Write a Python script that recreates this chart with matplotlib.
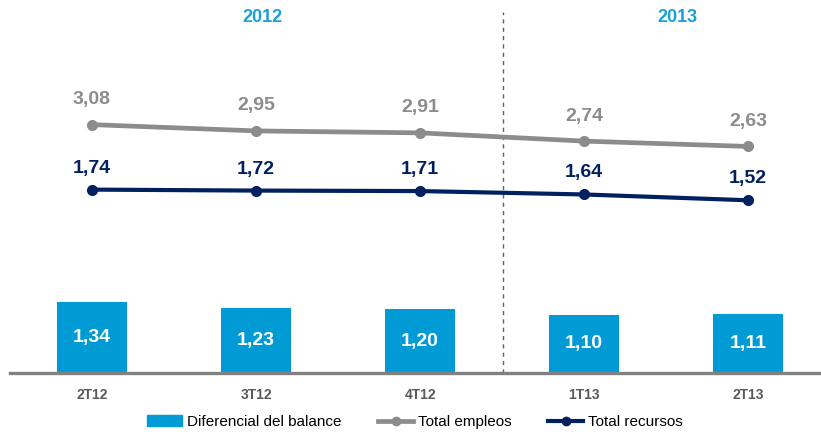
import numpy as np
import matplotlib.pyplot as plt
from matplotlib.patches import Patch
from matplotlib.lines import Line2D

plt.rcParams['font.family'] = ['Liberation Sans', 'DejaVu Sans']

# datos
trimestres = ['2T12', '3T12', '4T12', '1T13', '2T13']
diferencial = [1.34, 1.23, 1.20, 1.10, 1.11]
empleos = [3.08, 2.95, 2.91, 2.74, 2.63]
recursos = [1.74, 1.72, 1.71, 1.64, 1.52]
anios = ['2012', '2013']

c_bar = '#009BD5'
c_gris = '#8C8C8C'
c_azul = '#002060'
c_tick = '#595959'

def fmt(v):
    return f'{v:.2f}'.replace('.', ',')

fig = plt.figure(figsize=(8.21, 4.37), dpi=100)
ax = fig.add_axes([10/821, 64/437, 811/821, 373/437])
x = np.arange(len(trimestres))

ax.bar(x, diferencial, width=0.43, color=c_bar, zorder=2)
for xi, v in zip(x, diferencial):
    ax.text(xi, v/2, fmt(v), ha='center', va='center', color='white',
            fontsize=14, fontweight='bold', zorder=3)

ax.set_xlim(-0.5, 4.445)
ax.set_ylim(0, 373/53)
for s in ['top', 'right', 'left']:
    ax.spines[s].set_visible(False)
ax.spines['bottom'].set_color('#808080')
ax.spines['bottom'].set_linewidth(2.4)
ax.set_yticks([])
ax.set_xticks(x)
ax.set_xticklabels(trimestres, fontsize=10, fontweight='bold', color=c_tick)
ax.tick_params(axis='x', length=0, pad=11)

# separador de años
ax.plot([2.506, 2.506], [0, 0.968], transform=ax.get_xaxis_transform(),
        color='#606060', lw=1, ls=(0, (3, 3)), zorder=1)
ax.text(1.04, 0.952, anios[0], transform=ax.get_xaxis_transform(), ha='center', va='center',
        color='#1A9FD9', fontsize=13, fontweight='bold')
ax.text(3.57, 0.952, anios[1], transform=ax.get_xaxis_transform(), ha='center', va='center',
        color='#1A9FD9', fontsize=13, fontweight='bold')

ax2 = ax.twinx()
ax2.set_ylim(-99/48.5, 274/48.5)
ax2.axis('off')
ax2.plot(x, empleos, color=c_gris, lw=3.4, marker='o', ms=7, zorder=3)
ax2.plot(x, recursos, color=c_azul, lw=3, marker='o', ms=7, zorder=3)
for xi, v in zip(x, empleos):
    ax2.annotate(fmt(v), (xi, v), xytext=(0, 18), textcoords='offset points',
                 ha='center', va='center', color=c_gris, fontsize=14, fontweight='bold')
for xi, v in zip(x, recursos):
    ax2.annotate(fmt(v), (xi, v), xytext=(0, 15.5), textcoords='offset points',
                 ha='center', va='center', color=c_azul, fontsize=14, fontweight='bold')

handles = [Patch(color=c_bar),
           Line2D([], [], color=c_gris, lw=3.4, marker='o', ms=6),
           Line2D([], [], color=c_azul, lw=3, marker='o', ms=6)]
labels = ['Diferencial del balance', 'Total empleos', 'Total recursos']
fig.legend(handles, labels, loc='center', bbox_to_anchor=(415/821, 1 - 422/437), ncol=3,
           frameon=False, fontsize=11, handlelength=2.3, handletextpad=0.3,
           columnspacing=2.4, handleheight=0.7)

fig.savefig('out.png', dpi=100)
